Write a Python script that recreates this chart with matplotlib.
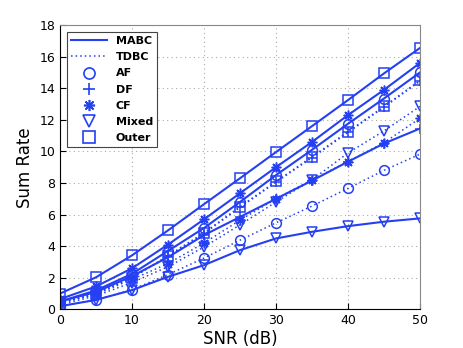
import numpy as np
from matplotlib import pyplot as plt
from matplotlib.lines import Line2D

# SNR points (dB)
snr = [0, 5, 10, 15, 20, 25, 30, 35, 40, 45, 50]

# MABC (solid lines)
outer_mabc = [1.0, 2.03, 3.42, 5.0, 6.66, 8.3, 9.96, 11.6, 13.25, 14.94, 16.55]
cf_mabc = [0.65, 1.45, 2.6, 4.1, 5.7, 7.35, 9.0, 10.6, 12.3, 13.9, 15.6]
af_mabc = [0.5, 1.2, 2.25, 3.7, 5.15, 6.8, 8.5, 10.1, 11.75, 13.35, 15.0]
df_mabc = [0.5, 1.1, 2.1, 3.3, 4.7, 5.85, 7.0, 8.15, 9.35, 10.5, 11.45]
mixed_mabc = [0.2, 0.6, 1.22, 2.06, 2.8, 3.75, 4.49, 4.91, 5.27, 5.55, 5.76]

# TDBC (dotted lines)
outer_tdbc = [0.4, 1.0, 2.0, 3.4, 4.85, 6.5, 8.1, 9.66, 11.25, 12.85, 14.5]
df_tdbc = [0.4, 1.0, 2.0, 3.35, 4.8, 6.45, 8.05, 9.6, 11.2, 12.8, 14.45]
cf_tdbc = [0.4, 0.95, 1.9, 2.9, 4.2, 5.65, 7.0, 8.2, 9.35, 10.55, 12.1]
mixed_tdbc = [0.3, 0.85, 1.7, 2.7, 3.95, 5.35, 6.8, 8.2, 9.9, 11.3, 12.85]
af_tdbc = [0.2, 0.6, 1.25, 2.2, 3.25, 4.38, 5.48, 6.54, 7.66, 8.8, 9.83]

col = '#2440f2'
asterisk = (8, 2, 0)
mk = dict(color=col, markerfacecolor='none', markeredgewidth=1.1, markersize=7)

fig = plt.figure(figsize=(4.63, 3.48), dpi=100)
ax = fig.add_axes([0.1296, 0.111, 0.7775, 0.817])

curves = [
    (outer_mabc, 's', '-'), (cf_mabc, asterisk, '-'), (af_mabc, 'o', '-'),
    (df_mabc, '+', '-'), (mixed_mabc, 'v', '-'),
    (outer_tdbc, 's', ':'), (df_tdbc, '+', ':'), (cf_tdbc, asterisk, ':'),
    (mixed_tdbc, 'v', ':'), (af_tdbc, 'o', ':'),
]
for vals, m, ls in curves:
    if ls == '-':
        ax.plot(snr, vals, marker=m, linestyle='-', linewidth=1.5, **mk)
    else:
        ax.plot(snr, vals, marker=m, linestyle=(0, (1, 2)), linewidth=1.1, **mk)

ax.set_xlim(0, 50)
ax.set_ylim(0, 18)
ax.set_xticks([0, 10, 20, 30, 40, 50])
ax.set_yticks(np.arange(0, 19, 2))
ax.grid(True, linestyle=(0, (1, 3)), color='#aaaaaa', linewidth=0.8)
ax.tick_params(direction='in', labelsize=9, length=4)
ax.set_xlabel('SNR (dB)', fontsize=12, labelpad=2)
ax.set_ylabel('Sum Rate', fontsize=12, labelpad=4)
for s in ['top', 'right']:
    ax.spines[s].set_color('#888888')

handles = [
    Line2D([], [], color=col, linestyle='-', linewidth=1.5),
    Line2D([], [], color=col, linestyle=(0, (1, 2)), linewidth=1.1),
    Line2D([], [], color=col, linestyle='none', marker='o', markerfacecolor='none', markersize=8, markeredgewidth=1.2),
    Line2D([], [], color=col, linestyle='none', marker='+', markersize=9, markeredgewidth=1.2),
    Line2D([], [], color=col, linestyle='none', marker=asterisk, markersize=8, markeredgewidth=1.2),
    Line2D([], [], color=col, linestyle='none', marker='v', markerfacecolor='none', markersize=9, markeredgewidth=1.2),
    Line2D([], [], color=col, linestyle='none', marker='s', markerfacecolor='none', markersize=8, markeredgewidth=1.2),
]
labels = ['MABC', 'TDBC', 'AF', 'DF', 'CF', 'Mixed', 'Outer']
leg = ax.legend(handles, labels, loc='upper left', fancybox=False, edgecolor='#444444',
                prop={'size': 8, 'weight': 'bold'}, handlelength=3.2, labelspacing=0.55,
                borderaxespad=0.6, handletextpad=0.8, framealpha=1)
leg.get_frame().set_linewidth(0.8)

plt.savefig('out.png', dpi=100)
